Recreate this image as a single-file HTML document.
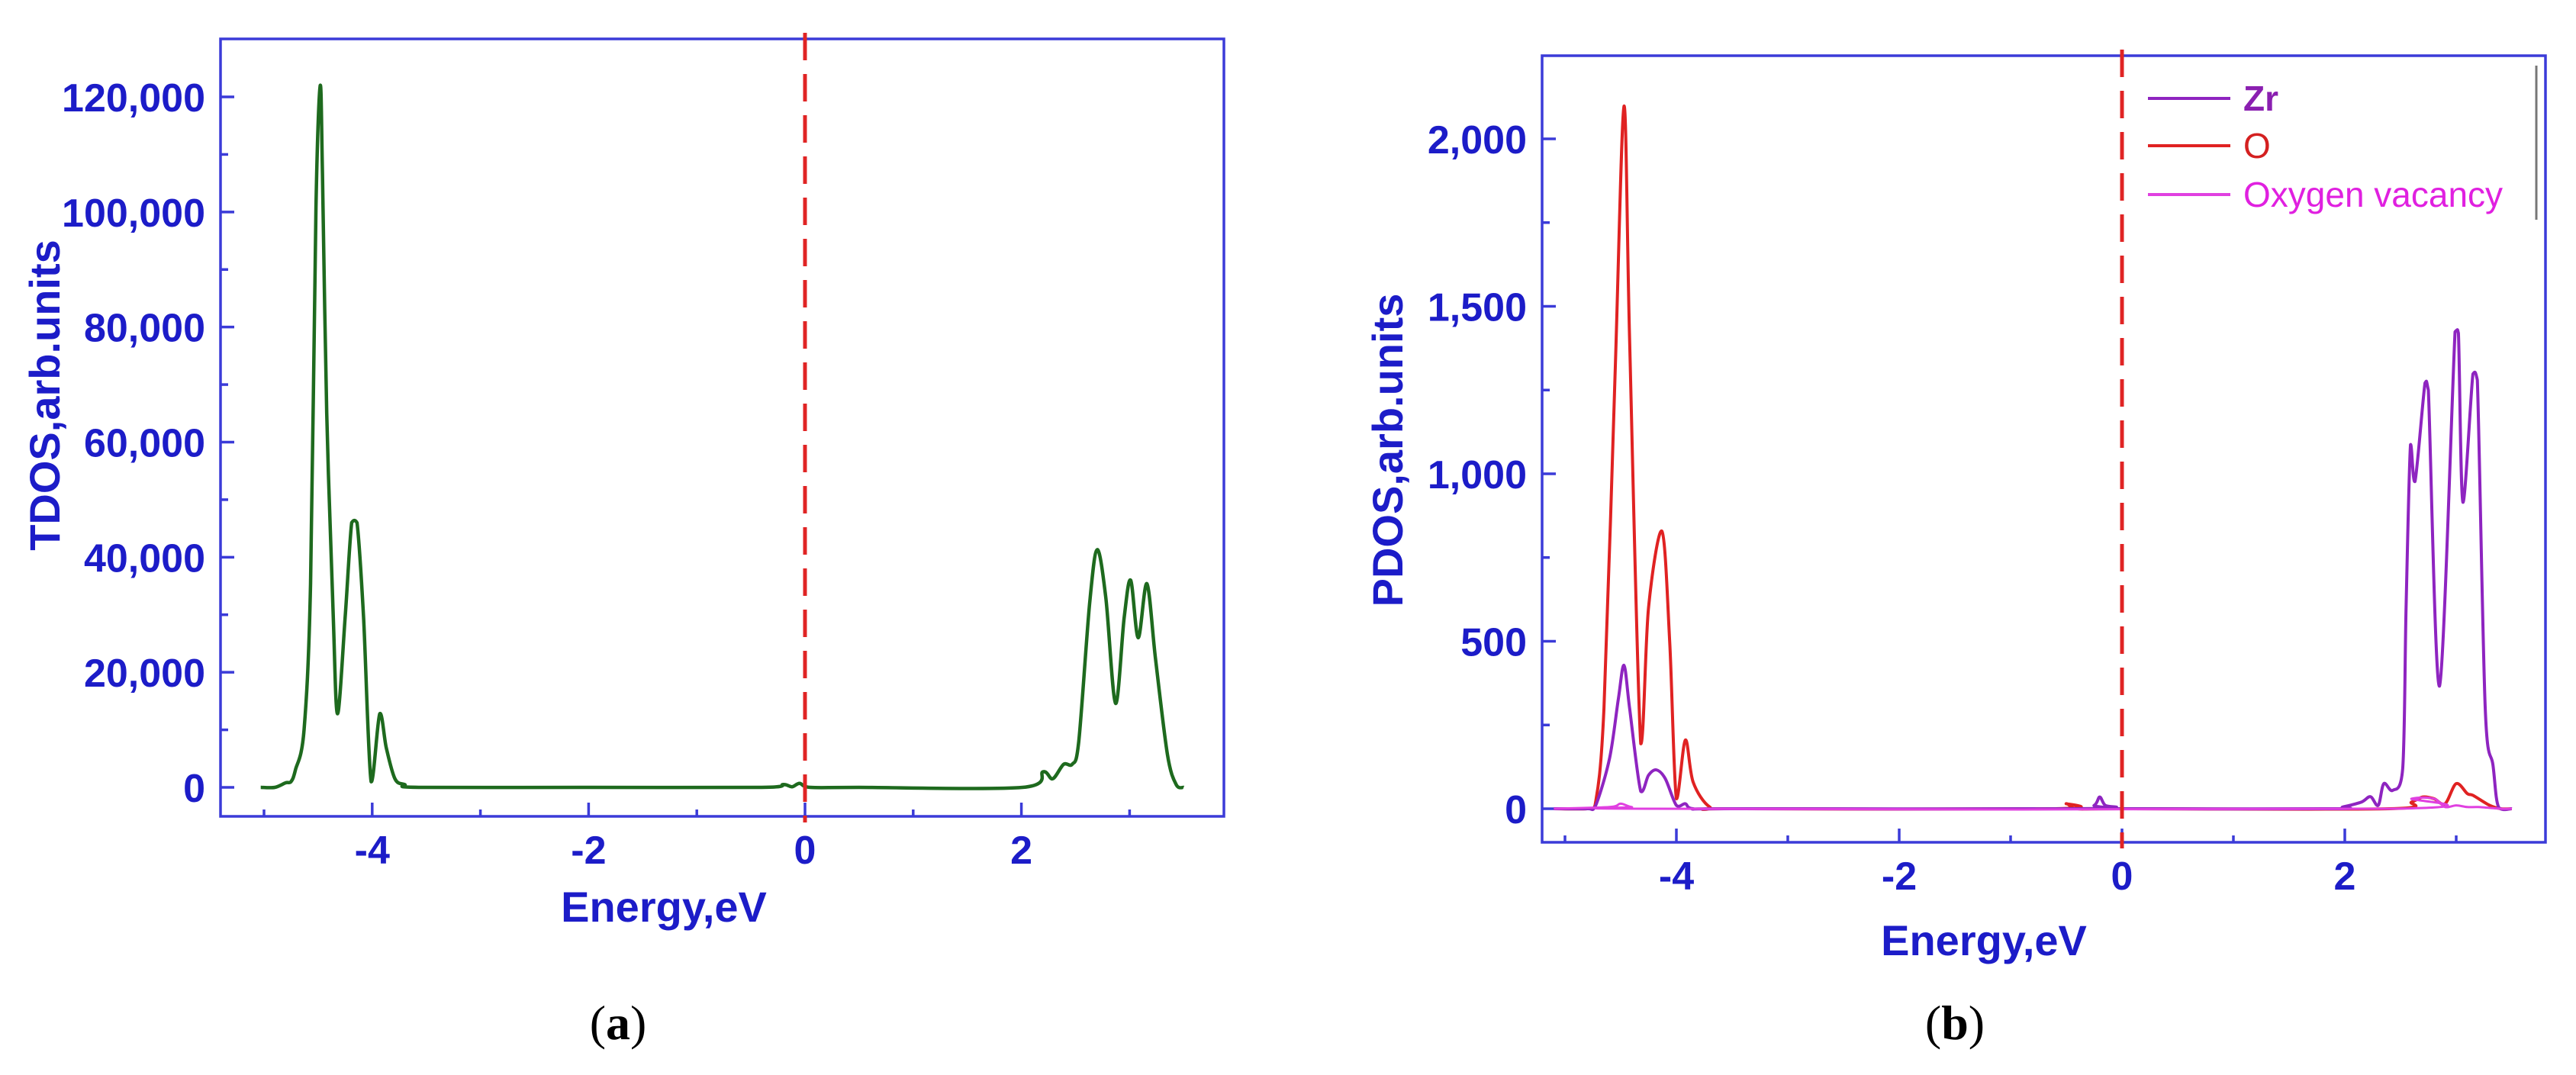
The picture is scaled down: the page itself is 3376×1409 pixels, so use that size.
<!DOCTYPE html>
<html><head><meta charset="utf-8"><style>
html,body{margin:0;padding:0;background:#fff;}
svg{display:block;}
.ax{stroke:#3b3bd8;stroke-width:3.5;fill:none;}
.tk{fill:#1c1cc8;font-family:"Liberation Sans",sans-serif;font-weight:bold;font-size:52px;}
.tt{fill:#1c1cc8;font-family:"Liberation Sans",sans-serif;font-weight:bold;font-size:56px;}
.cap{fill:#000;font-family:"Liberation Serif",serif;font-size:64px;}
</style></head><body>
<svg id="fig" width="3376" height="1409" viewBox="0 0 3376 1409" xmlns="http://www.w3.org/2000/svg">
<g id="pa"></g>
<g id="pb"></g>
<text class="cap" x="810" y="1362" text-anchor="middle">(<tspan font-weight="bold">a</tspan>)</text>
<text class="cap" x="2562" y="1362" text-anchor="middle">(<tspan font-weight="bold">b</tspan>)</text>
</svg>
<script>
// Panel (a) TDOS data
const tdosE = [-5.03,-4.9,-4.8,-4.75,-4.71,-4.63,-4.57,-4.52,-4.48,-4.46,-4.42,-4.36,-4.32,-4.25,-4.19,-4.14,-4.08,-4.01,-3.93,-3.87,-3.79,-3.7,-3.57,-2,-0.4,-0.2,-0.12,-0.05,0.05,0.5,2.01,2.2,2.29,2.39,2.47,2.53,2.63,2.7,2.78,2.87,2.95,3.01,3.08,3.16,3.24,3.35,3.43,3.5];
const tdosV = [0,0,800,1000,3000,10000,35400,100800,122000,106700,65000,29500,12800,29500,46000,46000,29500,1000,12800,6900,1500,500,0,0,0,500,100,700,0,0,0,2700,1500,4000,4000,8000,31800,41300,33000,14600,29500,36000,26000,35400,22300,5700,500,0];
const tdosYTicks = [0,20000,40000,60000,80000,100000,120000];
const tdosYLabels = ["0","20,000","40,000","60,000","80,000","100,000","120,000"];
const xTicks = [-4,-2,0,2];
const xLabels = ["-4","-2","0","2"];
const xMinor = [-5,-3,-1,1,3];
// Panel (b) PDOS data
const zrE = [-5.1,-4.8,-4.73,-4.6,-4.52,-4.47,-4.42,-4.32,-4.25,-4.18,-4.1,-4.0,-3.92,-3.85,-3.5,-0.4,-0.25,-0.2,-0.15,-0.05,0,1.9,1.98,2.15,2.23,2.3,2.35,2.43,2.52,2.55,2.59,2.63,2.72,2.75,2.85,2.99,3.02,3.06,3.15,3.19,3.26,3.33,3.38,3.5];
const zrV = [0,0,5,150,330,428,300,52,100,116,90,10,15,0,0,0,10,35,10,5,0,0,5,20,36,10,75,55,120,600,1087,977,1271,1250,366,1424,1420,915,1298,1280,303,130,5,0];
const oE = [-5.1,-4.8,-4.73,-4.65,-4.55,-4.47,-4.42,-4.32,-4.25,-4.13,-4.06,-4.0,-3.92,-3.85,-3.7,-3.5,-0.6,-0.5,-0.4,0,2.4,2.6,2.7,2.8,2.9,3.0,3.1,3.15,3.3,3.4,3.5];
const oV = [0,0,10,300,1300,2098,1400,194,600,829,500,30,205,80,5,0,0,15,0,0,0,20,35,30,15,75,45,40,10,0,0];
const ovE = [-5.1,-4.6,-4.5,-4.4,-4.2,2.4,2.6,2.8,2.9,3.0,3.1,3.2,3.4,3.5];
const ovV = [0,5,15,5,0,0,30,30,5,10,5,5,0,0];
const pdosYTicks = [0,500,1000,1500,2000];
const pdosYLabels = ["0","500","1,000","1,500","2,000"];
const pdosYMinor = [250,750,1250,1750,2250];
const tdosYMinor = [10000,30000,50000,70000,90000,110000];

const NS="http://www.w3.org/2000/svg";
function mk(parent,tag,attrs){const e=document.createElementNS(NS,tag);for(const k in attrs)e.setAttribute(k,attrs[k]);parent.appendChild(e);return e;}
function smooth(pts){
  let d='M'+pts[0][0].toFixed(1)+','+pts[0][1].toFixed(1);
  for(let i=0;i<pts.length-1;i++){
    const p0=pts[Math.max(0,i-1)],p1=pts[i],p2=pts[i+1],p3=pts[Math.min(pts.length-1,i+2)];
    const k=0.16;
    let c1x=p1[0]+(p2[0]-p0[0])*k, c1y=p1[1]+(p2[1]-p0[1])*k;
    let c2x=p2[0]-(p3[0]-p1[0])*k, c2y=p2[1]-(p3[1]-p1[1])*k;
    const lo=Math.min(p1[1],p2[1]),hi=Math.max(p1[1],p2[1]);
    c1y=Math.min(Math.max(c1y,lo-4),hi+4); c2y=Math.min(Math.max(c2y,lo-4),hi+4);
    d+=` C${c1x.toFixed(1)},${c1y.toFixed(1)} ${c2x.toFixed(1)},${c2y.toFixed(1)} ${p2[0].toFixed(1)},${p2[1].toFixed(1)}`;
  }
  return d;
}

function panel(g, box, ax, data){
  const X=e=>ax.x0+e*ax.xs, Y=v=>ax.y0-v*ax.ys;
  let r=mk(g,'rect',{x:box.l,y:box.t,width:box.r-box.l,height:box.b-box.t,class:'ax'});
  
  
  data.yTicks.forEach((v,i)=>{
    let t=mk(g,'line',{x1:box.l,x2:box.l+18,y1:Y(v),y2:Y(v),class:'ax'});
    
    
    let l=mk(g,'text',{x:box.l-20,y:Y(v)+19,'text-anchor':'end',class:'tk'});
    l.textContent=data.yLabels[i];
    
    
  });
  data.yMinor.forEach(v=>{ if(Y(v)>box.t){
    let t=mk(g,'line',{x1:box.l,x2:box.l+10,y1:Y(v),y2:Y(v),class:'ax'});
    
    }
  });
  xTicks.forEach((e,i)=>{
    let t=mk(g,'line',{x1:X(e),x2:X(e),y1:box.b,y2:box.b-18,class:'ax'});
    
    
    let l=mk(g,'text',{x:X(e),y:box.b+62,'text-anchor':'middle',class:'tk'});
    l.textContent=xLabels[i];
    
    
  });
  xMinor.forEach(e=>{
    let t=mk(g,'line',{x1:X(e),x2:X(e),y1:box.b,y2:box.b-9,class:'ax'});
    
    
  });
  data.series.forEach(s=>{
    const pts=s.E.map((e,i)=>[X(e),Y(s.V[i])]);
    let p=mk(g,'path',{d:smooth(pts),fill:'none',stroke:s.c,'stroke-width':s.w,'stroke-linejoin':'round'});
    
    
  });
  let d=mk(g,'line',{x1:X(0),x2:X(0),y1:box.t-8,y2:box.b+8,stroke:'#e02424','stroke-width':5,'stroke-dasharray':'36 18'});
  
  
  let xt=mk(g,'text',{x:data.xtx,y:data.xty,'text-anchor':'middle',class:'tt'});
  xt.textContent='Energy,eV';
  
  
  let yt=mk(g,'text',{x:0,y:0,'text-anchor':'middle',class:'tt',transform:`translate(${data.ytx},${data.yty}) rotate(-90)`});
  yt.textContent=data.ytitle;
  
  
}

panel(document.getElementById('pa'),{l:289,r:1604,t:51,b:1070},{x0:1055,xs:141.8,y0:1032,ys:905/120000},
 {yTicks:tdosYTicks,yLabels:tdosYLabels,yMinor:tdosYMinor,series:[{E:tdosE,V:tdosV,c:'#1e6a1e',w:4.5,name:'tdos-line'}],
  xtx:870,xty:1208,ytx:78,yty:518,ytitle:'TDOS,arb.units'});
panel(document.getElementById('pb'),{l:2021,r:3336,t:73,b:1104},{x0:2781,xs:146,y0:1060,ys:219.5/500},
 {yTicks:pdosYTicks,yLabels:pdosYLabels,yMinor:pdosYMinor,series:[
   {E:oE,V:oV,c:'#e02222',w:4,name:'o-line'},
   {E:zrE,V:zrV,c:'#8e24c0',w:4,name:'zr-line'},
   {E:ovE,V:ovV,c:'#e040e0',w:3,name:'oxygen-vacancy-line'}],
  xtx:2600,xty:1252,ytx:1838,yty:590,ytitle:'PDOS,arb.units'});

// legend
const lg=mk(document.getElementById('pb'),'g',{});


const legNames=['Zr','O','Oxygen vacancy'];
const legCols=['#8e24c0','#e02222','#e040e0'];
const legText=['#8a1fb0','#d42020','#e020e0'];
const legY=[129,191,255];
legNames.forEach((n,i)=>{
  let ln=mk(lg,'line',{x1:2815,x2:2923,y1:legY[i],y2:legY[i],stroke:legCols[i],'stroke-width':4});
  
  
  let t=mk(lg,'text',{x:2940,y:legY[i]+16,fill:legText[i],'font-family':'Liberation Sans, sans-serif','font-size':'46px','font-weight':i==0?'bold':'normal'});
  t.textContent=n;
  
  
});
let vb=mk(lg,'line',{x1:3324,x2:3324,y1:86,y2:288,stroke:'#777','stroke-width':3});


</script>
</body></html>
